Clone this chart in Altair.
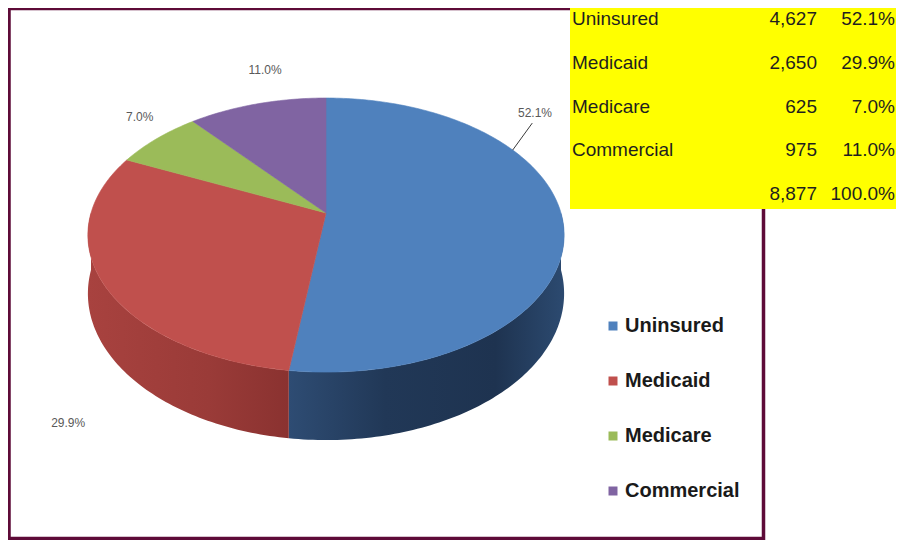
import altair as alt
import numpy as np
import pandas as pd

# ---- data ----
categories = ["Uninsured", "Medicaid", "Medicare", "Commercial"]
counts = [4627, 2650, 625, 975]
top_colors = ["#4F81BD", "#C0504D", "#9BBB59", "#8064A2"]

total = sum(counts)
pcts = [c / total * 100 for c in counts]

# ---- perspective-pie geometry (derived from the values) ----
K = 0.161      # perspective strength
DEPTH = 0.427  # side height, in vertical units


def proj(theta, r=1.0):
    X = r * np.sin(theta)
    Y = r * np.cos(theta)
    w = 1 + K * Y
    return X / w, Y / w, w


edges = np.concatenate([[0], np.cumsum(counts)]) / total * 2 * np.pi
top_rows, side_rows = [], []
for i, name in enumerate(categories):
    a, b = edges[i], edges[i + 1]
    ths = np.linspace(a, b, max(int(np.degrees(b - a)), 2) + 1)
    o = 0
    top_rows.append(dict(name=name, o=o, x=0.0, y=0.0))
    for t in ths:
        o += 1
        sx, sy, _ = proj(t)
        top_rows.append(dict(name=name, o=o, x=sx, y=sy))
    top_rows.append(dict(name=name, o=o + 1, x=0.0, y=0.0))
    lo, hi = max(a, np.pi / 2), min(b, 1.5 * np.pi)
    if hi > lo:
        ths = np.linspace(lo, hi, int(np.degrees(hi - lo)) + 2)
        o = 0
        for t in ths:
            sx, sy, _ = proj(t)
            side_rows.append(dict(name=name, o=o, x=sx, y=sy))
            o += 1
        for t in ths[::-1]:
            sx, sy, w = proj(t)
            side_rows.append(dict(name=name, o=o, x=sx, y=sy - DEPTH / w))
            o += 1
        sx, sy, _ = proj(ths[0])
        side_rows.append(dict(name=name, o=o, x=sx, y=sy))

top_df = pd.DataFrame(top_rows)
side_df = pd.DataFrame(side_rows)

# label placement (angle in degrees, radius)
label_at = [(49.9, 1.322), (214.9, 1.53), (312.2, 1.21), (346.4, 1.332)]
lab_rows = []
for i, (ang, r) in enumerate(label_at):
    sx, sy, _ = proj(np.radians(ang), r)
    lab_rows.append(dict(name=categories[i], label=f"{pcts[i]:.1f}%", x=sx, y=sy))
lab_df = pd.DataFrame(lab_rows)

x0, y0, _ = proj(np.radians(59.3), 1.0)
x1, y1, _ = proj(np.radians(52.5), 1.241)
lead_df = pd.DataFrame([dict(x=x0, y=y0, x2=x1, y2=y1)])

# table
tab_df = pd.DataFrame({
    "row": list(range(len(categories) + 1)),
    "name": categories + [""],
    "count": [f"{c:,}" for c in counts] + [f"{total:,}"],
    "pct": [f"{p:.1f}%" for p in pcts] + ["100.0%"],
})

# ---- scales ----
xs = alt.Scale(domain=[-1, 1], range=[83, 553], zero=False, nice=False)
ys = alt.Scale(domain=[-1, 1], range=[338.5, 71.5], zero=False, nice=False)
X = lambda f: alt.X(f, type="quantitative", scale=xs, axis=None)
Y = lambda f: alt.Y(f, type="quantitative", scale=ys, axis=None)

one = pd.DataFrame({"k": [0]})

frame = alt.Chart(one).mark_rect(fill="transparent", stroke="#5E0B38", strokeWidth=3.5).encode(
    x=alt.value(1), x2=alt.value(755.5), y=alt.value(0.5), y2=alt.value(530.5)
)


def side(name, stops):
    return alt.Chart(side_df).transform_filter(alt.datum.name == name).mark_line(
        fill=alt.LinearGradient(
            gradient="linear", x1=0, y1=0, x2=1, y2=0,
            stops=[alt.GradientStop(offset=o, color=c) for o, c in stops],
        ),
        strokeWidth=0,
    ).encode(x=X("x"), y=Y("y"), order=alt.Order("o:Q"))


side_blue = side("Uninsured", [(0, "#2E4C73"), (0.35, "#213857"), (0.75, "#1E3350"), (1, "#2C4A70")])
side_red = side("Medicaid", [(0, "#A8423F"), (0.6, "#9A3B38"), (1, "#8A3230")])

cscale = alt.Scale(domain=categories, range=top_colors)
top = alt.Chart(top_df).mark_line(strokeWidth=0.6).encode(
    x=X("x"), y=Y("y"), order=alt.Order("o:Q"),
    fill=alt.Fill("name:N", scale=cscale, sort=categories, legend=alt.Legend(
        title=None, orient="none", legendX=595, legendY=308, symbolType="square",
        symbolSize=81, symbolStrokeWidth=0, labelFont="Liberation Sans",
        labelFontWeight="bold", labelFontSize=20, labelColor="#1A1A1A",
        rowPadding=35, labelOffset=2, padding=0, labelLimit=300)),
    stroke=alt.Stroke("name:N", scale=cscale, sort=categories, legend=None),
)

labels = alt.Chart(lab_df).mark_text(font="Liberation Sans", fontSize=12, color="#595959").encode(
    x=X("x"), y=Y("y"), text="label:N"
)
leader = alt.Chart(lead_df).mark_rule(color="#3A3A3A", strokeWidth=1).encode(
    x=X("x"), y=Y("y"), x2="x2:Q", y2="y2:Q"
)

yellow = alt.Chart(one).mark_rect(fill="#FFFF00").encode(
    x=alt.value(562), x2=alt.value(888), y=alt.value(0), y2=alt.value(201)
)
ty = alt.Y("row:O", scale=alt.Scale(type="point", range=[11, 186], padding=0), axis=None)
tcommon = dict(font="Liberation Sans", fontSize=19, color="#1F1F1F", baseline="middle")
t_name = alt.Chart(tab_df).mark_text(align="left", **tcommon).encode(x=alt.value(564), y=ty, text="name:N")
t_cnt = alt.Chart(tab_df).mark_text(align="right", **tcommon).encode(x=alt.value(809), y=ty, text="count:N")
t_pct = alt.Chart(tab_df).mark_text(align="right", **tcommon).encode(x=alt.value(887), y=ty, text="pct:N")

chart = alt.layer(
    frame, side_blue, side_red, top, labels, leader, yellow, t_name, t_cnt, t_pct
).resolve_scale(y="independent").properties(
    width=888, height=532, autosize=alt.AutoSizeParams(type="none"), padding=0
).configure_view(stroke=None).configure(background="white")

chart.save("out.html", embed_options={"renderer": "svg", "actions": False})
